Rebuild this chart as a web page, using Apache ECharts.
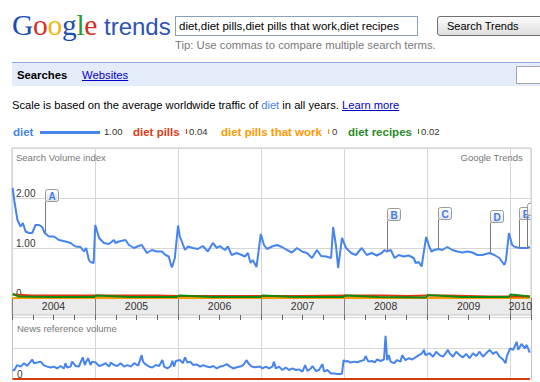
<!DOCTYPE html>
<html>
<head>
<meta charset="utf-8">
<script src="https://cdn.jsdelivr.net/npm/echarts@6/dist/echarts.min.js"></script>
<style>
  html, body { margin:0; padding:0; background:#fff; }
  body { width:540px; height:382px; overflow:hidden; position:relative; font-family:"Liberation Sans", Arial, sans-serif; }
  #chart { position:absolute; left:0; top:0; width:540px; height:382px; z-index:0; }
  .abs { position:absolute; white-space:nowrap; z-index:1; }
  #logo { left:12px; top:10px; font-family:"Liberation Serif", "Times New Roman", serif; font-size:29.5px; line-height:30px; letter-spacing:-0.3px; }
  #trends { left:104px; top:15px; font-size:24px; line-height:24px; color:#2d52b4; }
  #box { left:175px; top:16px; width:243px; height:20px; box-sizing:border-box; border:1px solid #8aa0bd; font-size:11.5px; line-height:18px; padding-left:3px; color:#000; background:#fff; }
  #btn { left:437px; top:16px; width:115px; height:20px; box-sizing:border-box; border:1px solid #707070; border-radius:3px; background:linear-gradient(#fbfbfb,#dedede); font-size:11px; line-height:18px; padding-left:9px; color:#000; }
  #tip { left:175px; top:39px; font-size:11.3px; line-height:12px; color:#7a7a7a; }
  #nav { left:12px; top:62px; width:540px; height:24px; box-sizing:border-box; border-top:1px solid #8fa8dc; background:#e5ecf9; }
  #navS { left:17px; top:69px; font-size:11.3px; line-height:12px; font-weight:bold; color:#000; }
  #navW { left:82px; top:69px; font-size:11.3px; line-height:12px; color:#0000cc; text-decoration:underline; }
  #navBox { left:516px; top:66px; width:30px; height:18px; box-sizing:border-box; border:1px solid #a5a5a5; background:#fff; }
  #scale { left:12px; top:99px; font-size:11.2px; line-height:12px; color:#000; }
  .lg { top:126px; font-size:11.5px; line-height:12px; font-weight:bold; }
  .lv { top:127px; font-size:9.5px; line-height:10px; color:#333; }
  .tk { width:1px; height:5px; top:129px; }
</style>
</head>
<body>
<div id="chart"></div>

<div class="abs" id="logo"><span style="color:#1c4fb2">G</span><span style="color:#d5301f">o</span><span style="color:#f0b40c">o</span><span style="color:#1c4fb2">g</span><span style="color:#2a9a2c">l</span><span style="color:#d5301f">e</span></div>
<div class="abs" id="trends">trends</div>
<div class="abs" id="box">diet,diet pills,diet pills that work,diet recipes</div>
<div class="abs" id="btn">Search Trends</div>
<div class="abs" id="tip">Tip: Use commas to compare multiple search terms.</div>
<div class="abs" id="nav"></div>
<div class="abs" id="navS">Searches</div>
<div class="abs" id="navW">Websites</div>
<div class="abs" id="navBox"></div>
<div class="abs" id="scale">Scale is based on the average worldwide traffic of <span style="color:#4684ee">diet</span> in all years. <span style="color:#0000cc;text-decoration:underline">Learn more</span></div>

<div class="abs lg" style="left:13px;color:#4684ee">diet</div>
<div class="abs" style="left:40px;top:131px;width:60px;height:3px;background:#4684ee"></div>
<div class="abs lv" style="left:104px">1.00</div>
<div class="abs lg" style="left:133px;color:#dc3912">diet pills</div>
<div class="abs tk" style="left:186px;background:#dc3912"></div>
<div class="abs lv" style="left:189px">0.04</div>
<div class="abs lg" style="left:221px;color:#ff9900">diet pills that work</div>
<div class="abs tk" style="left:328px;background:#ff9900"></div>
<div class="abs lv" style="left:332px">0</div>
<div class="abs lg" style="left:348px;color:#2a8a2a">diet recipes</div>
<div class="abs tk" style="left:418px;background:#2a8a2a"></div>
<div class="abs lv" style="left:421px">0.02</div>

<script>
// ---------- data ----------
const dietDates = ['2004-01-04','2004-01-11','2004-01-25','2004-02-08','2004-02-18','2004-03-01','2004-03-16','2004-03-30','2004-04-14','2004-04-29','2004-05-13','2004-05-24','2004-06-12','2004-07-04','2004-07-26','2004-08-24','2004-09-15','2004-10-07','2004-10-29','2004-11-13','2004-11-23','2004-12-05','2004-12-12','2004-12-26',
'2005-01-02','2005-01-19','2005-02-09','2005-03-03','2005-03-25','2005-04-01','2005-04-16','2005-05-15','2005-05-30','2005-06-21','2005-07-12','2005-07-26','2005-08-17','2005-09-08','2005-09-30','2005-10-22','2005-11-07','2005-11-21','2005-11-29','2005-12-05','2005-12-18',
'2006-01-01','2006-01-09','2006-02-01','2006-02-13','2006-03-07','2006-03-29','2006-04-20','2006-05-12','2006-06-03','2006-06-21','2006-07-04','2006-07-26','2006-08-08','2006-08-25','2006-09-16','2006-10-08','2006-10-22','2006-11-04','2006-11-16','2006-11-26','2006-12-12','2006-12-31',
'2007-01-14','2007-01-27','2007-02-18','2007-03-12','2007-04-03','2007-04-25','2007-05-17','2007-06-08','2007-06-30','2007-07-22','2007-08-13','2007-09-04','2007-09-22','2007-10-14','2007-11-05','2007-11-14','2007-11-27','2007-12-06','2007-12-23',
'2008-01-10','2008-02-01','2008-02-22','2008-03-06','2008-03-19','2008-04-10','2008-05-02','2008-05-24','2008-06-15','2008-06-28','2008-07-07','2008-07-25','2008-08-11','2008-08-29','2008-09-20','2008-10-12','2008-11-03','2008-11-12','2008-11-25','2008-12-08','2008-12-28',
'2009-01-11','2009-01-20','2009-02-02','2009-02-20','2009-03-09','2009-03-31','2009-04-22','2009-05-14','2009-06-05','2009-06-27','2009-07-19','2009-08-10','2009-09-01','2009-10-02','2009-10-24','2009-11-15','2009-12-07','2009-12-14','2009-12-27',
'2010-01-10','2010-01-23','2010-02-14','2010-03-16','2010-03-29'];
const dietValues = [2.20,1.95,1.56,1.43,1.50,1.33,1.30,1.30,1.46,1.46,1.42,1.30,1.23,1.23,1.16,1.13,1.10,1.03,1.02,0.93,1.00,0.76,0.72,0.70,
1.46,1.20,1.10,1.08,1.16,1.10,1.13,1.16,1.06,1.00,1.04,1.06,0.90,0.96,0.93,0.93,0.86,0.83,0.70,0.61,0.80,
1.45,1.23,0.96,1.03,1.00,0.98,1.04,0.93,1.10,1.00,1.04,0.96,1.03,0.86,0.90,0.86,0.83,0.90,0.70,0.76,0.62,1.28,
1.06,0.98,1.03,1.06,1.02,0.96,0.91,1.00,0.93,0.90,0.80,0.96,0.84,0.83,0.80,1.42,1.03,0.60,1.20,
1.00,0.90,0.86,0.93,1.00,0.86,0.90,0.85,0.90,0.96,0.93,0.96,0.80,0.86,0.83,0.85,0.80,0.70,0.72,0.63,1.22,
1.03,0.93,0.96,0.98,0.96,1.02,0.96,0.93,0.91,0.93,0.91,0.86,0.86,0.90,0.86,0.80,0.66,0.76,1.30,
1.06,1.02,1.00,1.00,1.02];

const pillsDates = ['2004-01-04','2004-04-01','2004-07-01','2004-10-01','2005-01-01','2005-04-01','2005-07-01','2005-10-01','2006-01-01','2006-07-01','2007-01-01','2007-07-01','2008-01-01','2008-04-01','2008-07-01','2008-10-01','2009-01-01','2009-04-01','2009-07-01','2009-10-01','2010-01-01','2010-03-29'];
const pillsValues = [0.07,0.05,0.05,0.05,0.05,0.05,0.05,0.05,0.04,0.04,0.04,0.04,0.05,0.05,0.05,0.04,0.05,0.05,0.04,0.03,0.03,0.03];

const workDates = ['2004-01-04','2010-03-29'];
const workValues = [0, 0];

const recipesDates = ['2004-01-04','2004-02-01','2004-06-01','2004-12-26','2005-01-09','2005-06-01','2005-12-25','2006-01-08','2006-06-01','2006-12-31','2007-01-07','2007-06-01','2007-12-30','2008-01-06','2008-06-01','2008-12-28','2009-01-04','2009-06-01','2009-12-27','2010-01-03','2010-03-29'];
const recipesValues = [0.08,0.03,0.02,0.02,0.05,0.02,0.02,0.05,0.02,0.02,0.05,0.02,0.02,0.05,0.02,0.01,0.06,0.02,0.02,0.07,0.03];

const newsDates = ['2004-01-04','2004-01-10','2004-01-24','2004-02-08','2004-02-23','2004-03-08','2004-03-23','2004-03-30','2004-04-07','2004-04-21','2004-05-06','2004-05-21','2004-06-04','2004-06-19','2004-07-04','2004-07-18','2004-08-02','2004-08-17','2004-08-24','2004-08-31','2004-09-15','2004-09-22','2004-10-07','2004-10-22','2004-10-29','2004-11-08','2004-11-17','2004-11-23','2004-12-02','2004-12-12','2004-12-19',
'2005-01-04','2005-01-19','2005-02-02','2005-02-17','2005-03-04','2005-03-11','2005-03-26','2005-04-09','2005-04-24','2005-05-09','2005-05-23','2005-06-07','2005-06-22','2005-07-10','2005-07-25','2005-07-31','2005-08-12','2005-08-27','2005-09-10','2005-09-25','2005-10-10','2005-10-24','2005-11-01','2005-11-15','2005-11-30','2005-12-07','2005-12-15','2005-12-22',
'2006-01-10','2006-01-22','2006-02-01','2006-02-11','2006-02-23','2006-03-09','2006-03-24','2006-04-08','2006-04-22','2006-05-07','2006-05-22','2006-06-05','2006-06-20','2006-07-05','2006-07-19','2006-08-03','2006-08-18','2006-09-01','2006-09-16','2006-10-01','2006-10-15','2006-10-30','2006-11-06','2006-11-21','2006-12-06','2006-12-28',
'2007-01-07','2007-01-22','2007-02-05','2007-02-20','2007-02-27','2007-03-07','2007-03-21','2007-04-05','2007-04-20','2007-05-04','2007-05-19','2007-06-03','2007-06-17','2007-07-02','2007-07-14','2007-07-24','2007-08-08','2007-08-15','2007-08-30','2007-09-13','2007-09-28','2007-10-05','2007-10-20','2007-11-04','2007-11-18','2007-12-03','2007-12-13','2007-12-23','2007-12-30',
'2008-01-06','2008-01-15','2008-01-30','2008-02-14','2008-02-29','2008-03-14','2008-03-29','2008-04-05','2008-04-17','2008-05-02','2008-05-16','2008-05-26','2008-06-10','2008-06-25','2008-07-02','2008-07-09','2008-07-17','2008-07-24','2008-08-08','2008-08-22','2008-09-06','2008-09-13','2008-09-28','2008-10-13','2008-10-27','2008-11-11','2008-11-26','2008-12-10','2008-12-18','2008-12-25',
'2009-01-12','2009-01-27','2009-02-10','2009-02-25','2009-03-12','2009-03-26','2009-04-03','2009-04-10','2009-04-25','2009-05-09','2009-05-24','2009-06-08','2009-06-22','2009-07-07','2009-07-22','2009-08-05','2009-08-20','2009-09-04','2009-09-18','2009-10-03','2009-10-18','2009-11-01','2009-11-16','2009-12-01','2009-12-12','2009-12-18',
'2010-01-01','2010-01-15','2010-01-30','2010-02-06','2010-02-20','2010-03-07','2010-03-14','2010-03-29'];
const newsValues = [0.31,0.27,0.45,0.40,0.51,0.42,0.56,0.63,0.51,0.53,0.56,0.44,0.40,0.37,0.40,0.34,0.42,0.34,0.51,0.37,0.40,0.56,0.42,0.40,0.53,0.70,0.45,0.56,0.67,0.45,0.56,
0.53,0.42,0.45,0.51,0.40,0.53,0.45,0.42,0.51,0.40,0.45,0.40,0.51,0.43,0.77,0.56,0.47,0.40,0.37,0.45,0.42,0.61,0.40,0.34,0.42,0.59,0.40,0.58,
0.61,0.51,0.70,0.53,0.56,0.45,0.47,0.40,0.45,0.40,0.38,0.42,0.34,0.40,0.42,0.48,0.40,0.34,0.38,0.40,0.45,0.61,0.51,0.40,0.38,0.40,
0.34,0.40,0.34,0.40,0.56,0.34,0.40,0.29,0.37,0.29,0.34,0.29,0.31,0.24,0.45,0.26,0.34,0.42,0.26,0.29,0.48,0.24,0.29,0.18,0.18,0.16,0.16,0.18,0.61,
0.56,0.58,0.53,0.56,0.54,0.58,0.61,0.74,0.56,0.58,0.54,0.63,0.58,0.63,1.39,0.61,0.77,0.56,0.51,0.61,0.56,0.77,0.61,0.67,0.63,0.70,0.77,0.83,0.94,0.77,
0.83,0.72,0.88,0.77,0.72,0.85,0.94,0.83,0.72,0.88,0.77,0.70,0.81,0.67,0.83,0.74,0.88,0.72,0.83,0.94,0.81,0.88,0.72,0.63,0.51,0.74,
0.99,0.94,1.20,0.94,1.13,0.99,1.10,0.85];

const newsPillsDates = ['2004-01-04','2010-03-29'];
const newsPillsValues = [0, 0];

const flagLetters = ['A','B','C','D','E','F'];
const flagDates = ['2004-05-24','2008-07-10','2009-02-20','2009-10-03','2010-02-08','2010-03-17'];
const flagBoxTop = [2.18,1.81,1.82,1.76,1.82,1.90];
const flagAnchor = [1.30,0.93,0.98,0.88,1.00,1.00];

const yearLabels = ['2004','2005','2006','2007','2008','2009','2010'];
const axisStart = '2004-01-01';
const axisEnd = '2010-04-03';

// ---------- helpers ----------
function yr(s) {
  const d = Date.parse(s + 'T00:00:00Z');
  const y = new Date(d).getUTCFullYear();
  const a = Date.UTC(y, 0, 1), b = Date.UTC(y + 1, 0, 1);
  return y + (d - a) / (b - a);
}
const pairs = (ds, vs) => ds.map((d, i) => [yr(d), vs[i]]);
const X_MIN = yr(axisStart), X_MAX = yr(axisEnd);
const FONT = '"Liberation Sans", Arial, sans-serif';
const GRID_LINE = '#d6d6d6';
const FRAME = '#c4c4c4';

function yearLabel(v) {
  const y = Math.floor(v + 1e-9);
  const f = v - y;
  const idx = y - 2004;
  if (idx < 0 || idx >= yearLabels.length) return '';
  if (idx === yearLabels.length - 1) return Math.abs(f - 0.125) < 1e-6 ? yearLabels[idx] : '';
  return Math.abs(f - 0.5) < 1e-6 ? yearLabels[idx] : '';
}

const chart = echarts.init(document.getElementById('chart'), null, { renderer: 'svg' });

const hidden = { axisLine:{show:false}, axisTick:{show:false}, axisLabel:{show:false}, splitLine:{show:false} };

const option = {
  animation: false,
  textStyle: { fontFamily: FONT },
  title: [
    { text:'Search Volume index', left:16, top:152, padding:0, textStyle:{ fontSize:9.5, color:'#777', fontWeight:'normal', fontFamily:FONT } },
    { text:'Google Trends', right:17, top:152, padding:0, textStyle:{ fontSize:9.5, color:'#777', fontWeight:'normal', fontFamily:FONT } },
    { text:'News reference volume', left:17, top:323, padding:0, textStyle:{ fontSize:9.5, color:'#777', fontWeight:'normal', fontFamily:FONT } }
  ],
  grid: [
    { left:12, right:9, top:148, height:150, show:true, borderColor:FRAME, borderWidth:1 },
    { left:12, right:9, top:298, height:17, show:true, backgroundColor:'#ebebeb', borderColor:FRAME, borderWidth:1 },
    { left:12, right:9, top:317, height:62, show:false }
  ],
  xAxis: [
    Object.assign({ gridIndex:0, type:'value', min:X_MIN, max:X_MAX, interval:1, position:'bottom' }, hidden,
      { splitLine:{ show:true, lineStyle:{ color:GRID_LINE, width:1 } } }),
    Object.assign({ gridIndex:1, type:'value', min:X_MIN, max:X_MAX, interval:0.125, position:'bottom' }, hidden,
      { axisLabel:{ show:true, inside:true, margin:4, fontSize:10.5, color:'#333', fontFamily:FONT, formatter:yearLabel, showMinLabel:true, showMaxLabel:false } }),
    Object.assign({ gridIndex:1, type:'value', min:X_MIN, max:X_MAX, interval:1, position:'bottom' }, hidden,
      { splitLine:{ show:true, lineStyle:{ color:'#858585', width:1 } } }),
    Object.assign({ gridIndex:1, type:'value', min:X_MIN, max:X_MAX, interval:0.25, position:'bottom' }, hidden,
      { axisTick:{ show:true, inside:false, length:5, lineStyle:{ color:'#666', width:1 } } }),
    Object.assign({ gridIndex:2, type:'value', min:X_MIN, max:X_MAX, interval:1, position:'bottom' }, hidden,
      { splitLine:{ show:true, lineStyle:{ color:GRID_LINE, width:1 } } })
  ],
  yAxis: [
    Object.assign({ gridIndex:0, type:'value', min:0, max:3, interval:1, position:'left' }, hidden,
      { splitLine:{ show:true, lineStyle:{ color:GRID_LINE, width:1 } },
        axisLabel:{ show:true, inside:true, margin:4, fontSize:10, color:'#333', fontFamily:FONT, verticalAlign:'bottom',
          formatter: v => v === 0 ? '0' : (v >= 3 ? '' : v.toFixed(2)) } }),
    Object.assign({ gridIndex:1, type:'value', min:0, max:1, show:false }, hidden),
    Object.assign({ gridIndex:2, type:'value', min:0, max:2, interval:1, position:'left' }, hidden,
      { axisLine:{ show:true, lineStyle:{ color:FRAME, width:1 } },
        splitLine:{ show:true, lineStyle:{ color:GRID_LINE, width:1 } },
        axisLabel:{ show:true, inside:true, margin:5, fontSize:10, color:'#333', fontFamily:FONT, verticalAlign:'bottom',
          formatter: v => v === 0 ? '0' : '' } }),
    Object.assign({ gridIndex:2, type:'value', min:0, max:2, position:'right' }, hidden,
      { axisLine:{ show:true, lineStyle:{ color:FRAME, width:1 } } })
  ],
  series: [
    { name:'diet pills that work', type:'line', xAxisIndex:0, yAxisIndex:0, data:pairs(workDates, workValues),
      showSymbol:false, symbol:'none', lineStyle:{ color:'#ff9900', width:2 }, z:2 },
    { name:'diet pills', type:'line', xAxisIndex:0, yAxisIndex:0, data:pairs(pillsDates, pillsValues),
      showSymbol:false, symbol:'none', lineStyle:{ color:'#dc3912', width:2 }, z:3 },
    { name:'diet recipes', type:'line', xAxisIndex:0, yAxisIndex:0, data:pairs(recipesDates, recipesValues),
      showSymbol:false, symbol:'none', lineStyle:{ color:'#108a10', width:2 }, z:4 },
    { name:'diet', type:'line', xAxisIndex:0, yAxisIndex:0, data:pairs(dietDates, dietValues),
      showSymbol:false, symbol:'none', lineStyle:{ color:'#4684ee', width:2 }, z:5 },
    { name:'flags', type:'custom', xAxisIndex:0, yAxisIndex:0, clip:true, z:10,
      data: flagDates.map((d, i) => [yr(d), flagBoxTop[i], flagAnchor[i]]),
      renderItem: function (params, api) {
        const i = params.dataIndex;
        const top = api.coord([api.value(0), api.value(1)]);
        const anc = api.coord([api.value(0), api.value(2)]);
        const x = Math.round(top[0]) + 0.5;
        const y = Math.round(top[1]) + 0.5;
        return { type:'group', children:[
          { type:'line', shape:{ x1:x, y1:y + 12, x2:x, y2:anc[1] }, style:{ stroke:'#7a7a7a', lineWidth:1 } },
          { type:'rect', shape:{ x:x, y:y, width:13, height:12, r:2 },
            style:{ fill:new echarts.graphic.LinearGradient(0,0,0,1,[{offset:0,color:'#ffffff'},{offset:1,color:'#e4e4e4'}]), stroke:'#9a9a9a', lineWidth:1 } },
          { type:'text', x:x + 6.5, y:y + 6.5,
            style:{ text:flagLetters[i], fill:'#3f7be6', font:'bold 10px ' + FONT, textAlign:'center', textVerticalAlign:'middle', align:'center', verticalAlign:'middle' } }
        ]};
      }
    },
    { name:'news diet', type:'line', xAxisIndex:4, yAxisIndex:2, data:pairs(newsDates, newsValues),
      showSymbol:false, symbol:'none', lineStyle:{ color:'#4684ee', width:2 }, z:5 },
    { name:'news diet pills', type:'line', xAxisIndex:4, yAxisIndex:2, data:pairs(newsPillsDates, newsPillsValues),
      showSymbol:false, symbol:'none', clip:false, lineStyle:{ color:'#dc3912', width:2 }, z:4 }
  ]
};
chart.setOption(option);
</script>
</body>
</html>
